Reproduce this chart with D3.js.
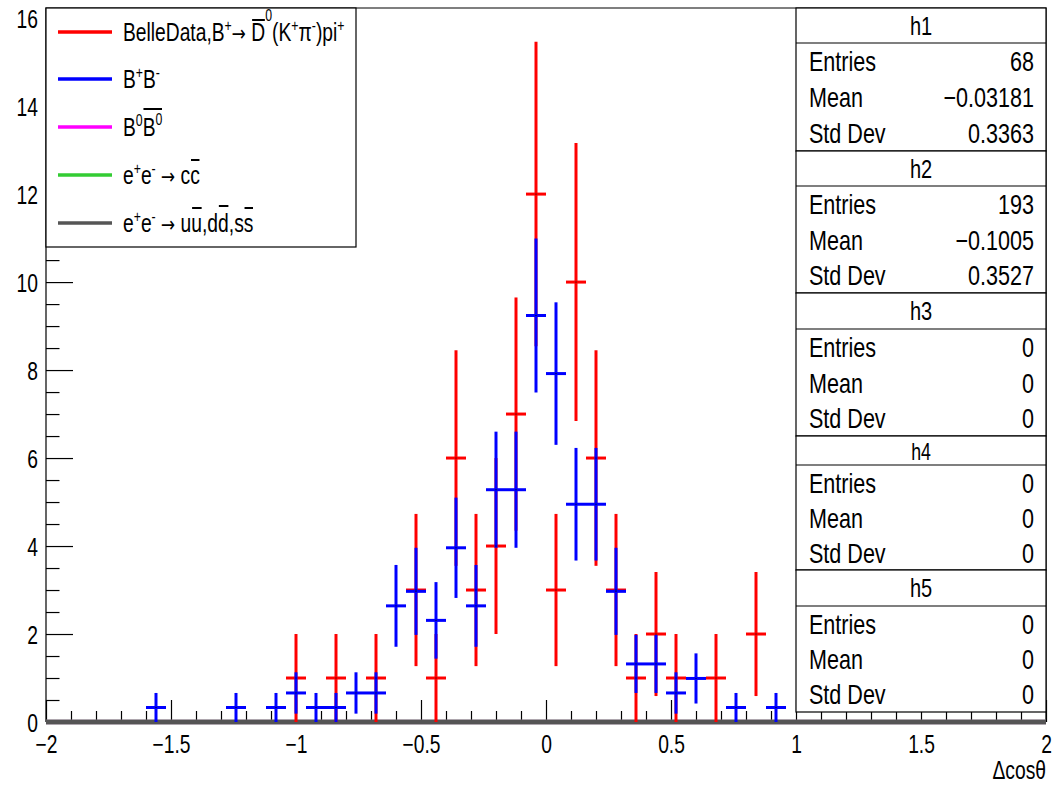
<!DOCTYPE html>
<html><head><meta charset="utf-8">
<script src="https://cdn.jsdelivr.net/npm/d3@7"></script>
<style>
html,body{margin:0;padding:0;background:#fff;}
svg{display:block;font-family:"Liberation Sans",Arial,Helvetica,sans-serif;}
</style></head><body>
<svg id="c" width="1064" height="785"></svg>
<script>
// ---------------- DATA ----------------
// h1: Belle data (bin centers, counts, errors)
const dataX   = [-1.00,-0.84,-0.68,-0.52,-0.44,-0.36,-0.28,-0.20,-0.12,-0.04,0.04,0.12,0.20,0.28,0.36,0.44,0.52,0.68,0.84];
const dataY   = [1,1,1,3,1,6,3,4,7,12,3,10,6,3,1,2,1,1,2];
const dataErr = [1,1,1,1.73,1,2.45,1.73,2,2.65,3.46,1.73,3.16,2.45,1.73,1,1.41,1,1,1.41];
// h2: B+B- MC (scaled)
const mcX   = [-1.56,-1.24,-1.08,-1.00,-0.92,-0.84,-0.76,-0.68,-0.60,-0.52,-0.44,-0.36,-0.28,-0.20,-0.12,-0.04,0.04,0.12,0.20,0.28,0.36,0.44,0.52,0.60,0.76,0.92];
const mcY   = [0.33,0.33,0.33,0.66,0.33,0.33,0.66,0.66,2.64,2.97,2.31,3.96,2.64,5.28,5.28,9.24,7.92,4.95,4.95,2.97,1.32,1.32,0.66,0.99,0.33,0.33];
const mcErr = [0.33,0.33,0.33,0.47,0.33,0.33,0.47,0.47,0.93,0.99,0.87,1.14,0.93,1.32,1.32,1.75,1.62,1.28,1.28,0.99,0.66,0.66,0.47,0.57,0.33,0.33];
// h3,h4,h5: empty histograms (value 0 over the full range)
const emptyX = [-2, 2];
const emptyY = [0, 0];
const binWidth = 0.08;

const xTicks = [-2,-1.5,-1,-0.5,0,0.5,1,1.5,2];
const xMinorTicks = [-1.9,-1.8,-1.7,-1.6,-1.4,-1.3,-1.2,-1.1,-0.9,-0.8,-0.7,-0.6,-0.4,-0.3,-0.2,-0.1,0.1,0.2,0.3,0.4,0.6,0.7,0.8,0.9,1.1,1.2,1.3,1.4,1.6,1.7,1.8,1.9];
const yTicks = [0,2,4,6,8,10,12,14,16];
const yMinorTicks = [0.5,1,1.5,2.5,3,3.5,4.5,5,5.5,6.5,7,7.5,8.5,9,9.5,10.5,11,11.5,12.5,13,13.5,14.5,15,15.5];

const statNames   = ["h1","h2","h3","h4","h5"];
const statEntries = ["68","193","0","0","0"];
const statMean    = ["\u22120.03181","\u22120.1005","0","0","0"];
const statStd     = ["0.3363","0.3527","0","0","0"];
const statLabels  = ["Entries","Mean","Std Dev"];

const xTitle = "\u0394cos\u03b8";

// ---------------- DRAW ----------------
const SX = 0.77; // horizontal text compression of the reference
const svg = d3.select("#c");
const L = 46, R = 1046, T = 8, B = 722;
const x = d3.scaleLinear().domain([-2,2]).range([L,R]);
const y = d3.scaleLinear().domain([0,16.23]).range([B,T]);
const fmt = d => (d<0 ? "\u2212" : "") + Math.abs(d);

// frame
svg.append("path").attr("d",`M${L},${B}V${T}H${R}V${B}`).attr("fill","none").attr("stroke","#000").attr("stroke-width",1.2);

// x axis
function styleAxis(g){ g.select(".domain").remove(); g.selectAll("line").attr("stroke","#000").attr("stroke-width",1.2); }
svg.append("g").attr("transform",`translate(0,${B})`)
  .call(d3.axisBottom(x).tickValues(xMinorTicks).tickSize(-11).tickFormat("").tickSizeOuter(0)).call(styleAxis);
const gx = svg.append("g").attr("transform",`translate(0,${B})`)
  .call(d3.axisBottom(x).tickValues(xTicks).tickSize(-22).tickPadding(13).tickFormat(fmt).tickSizeOuter(0)).call(styleAxis);
gx.selectAll("text").attr("font-size",25).attr("font-family",null).attr("fill","#000")
  .attr("transform",`scale(${SX},1)`);
gx.attr("font-family",null).attr("font-size",null);

// y axis
svg.append("g").attr("transform",`translate(${L},0)`)
  .call(d3.axisLeft(y).tickValues(yMinorTicks).tickSize(-13.5).tickFormat("").tickSizeOuter(0)).call(styleAxis);
const gy = svg.append("g").attr("transform",`translate(${L},0)`)
  .call(d3.axisLeft(y).tickValues(yTicks).tickSize(-27).tickFormat(fmt).tickSizeOuter(0)).call(styleAxis);
gy.attr("font-family",null).attr("font-size",null);
gy.selectAll("text").attr("font-size",25).attr("fill","#000").attr("x",0).attr("dy",null).attr("y",9)
  .attr("transform",`translate(-8,0) scale(${SX},1)`);

// x title
svg.append("text").attr("transform",`translate(${R},779) scale(${SX},1)`).attr("text-anchor","end")
  .attr("font-size",25).text(xTitle);

// empty histograms at 0
const line = d3.line().x((d,i)=>x(emptyX[i])).y(d=>y(d));
["#ff00ff","#33cc33","#555555"].forEach(c=>{
  svg.append("path").datum(emptyY).attr("d",line).attr("stroke",c).attr("stroke-width",4.5).attr("fill","none");
});

// error-bar histograms
function drawErr(xs, ys, es, color){
  const g = svg.append("g").attr("stroke",color).attr("stroke-width",3);
  xs.forEach((c,i)=>{
    g.append("line").attr("x1",x(c)).attr("x2",x(c)).attr("y1",y(Math.max(0,ys[i]-es[i]))).attr("y2",y(ys[i]+es[i]));
    g.append("line").attr("x1",x(c-binWidth/2)).attr("x2",x(c+binWidth/2)).attr("y1",y(ys[i])).attr("y2",y(ys[i]));
  });
  return g;
}
drawErr(dataX,dataY,dataErr,"#ff0000");
drawErr(mcX,mcY,mcErr,"#0000ff");
// tiny markers
dataX.forEach((c,i)=>svg.append("rect").attr("x",x(c)-0.5).attr("y",y(dataY[i])-0.5).attr("width",1).attr("height",1).attr("fill","#000"));
mcX.forEach((c,i)=>svg.append("rect").attr("x",x(c)-0.5).attr("y",y(mcY[i])-0.5).attr("width",1).attr("height",1).attr("fill","#000"));

// ---------------- LEGEND ----------------
svg.append("rect").attr("x",L).attr("y",T).attr("width",310).attr("height",239).attr("fill","#fff").attr("stroke","#000").attr("stroke-width",1.2);
const FS = 25, SUP = 16;
const ARROW = {t:"\u2192", font:"DejaVu Sans"};
const legendEntries = [
  {c:"#ff0000", segs:[{t:"BelleData,B"},{t:"+",sup:10},ARROW,{t:" "},{t:"D",bar:"both",barY:-21},{t:"0",sup:20},{t:"(K"},{t:"+",sup:10},{t:"\u03c0"},{t:"-",sup:10},{t:")pi"},{t:"+",sup:10}]},
  {c:"#0000ff", segs:[{t:"B"},{t:"+",sup:10},{t:"B"},{t:"-",sup:10}]},
  {c:"#ff00ff", segs:[{t:"B"},{t:"0",sup:10},{t:"B",bar:"start",barY:-27},{t:"0",sup:11,bar:"end"}]},
  {c:"#33cc33", segs:[{t:"e"},{t:"+",sup:10},{t:"e"},{t:"-",sup:10},{t:" "},ARROW,{t:" c"},{t:"c",bar:"both",barY:-24}]},
  {c:"#555555", segs:[{t:"e"},{t:"+",sup:10},{t:"e"},{t:"-",sup:10},{t:" "},ARROW,{t:" u"},{t:"u",bar:"both",barY:-24},{t:",d"},{t:"d",bar:"both",barY:-26},{t:",s"},{t:"s",bar:"both",barY:-24}]}
];
const rowY = [32,79,127,175,223];
legendEntries.forEach((e,i)=>{
  svg.append("line").attr("x1",58).attr("x2",112).attr("y1",rowY[i]).attr("y2",rowY[i]).attr("stroke",e.c).attr("stroke-width",3.5);
  const g = svg.append("g").attr("transform",`translate(123,${rowY[i]+9}) scale(${SX},1)`);
  let cx = 0, barStart = 0, barY = 0;
  e.segs.forEach(s=>{
    const t = g.append("text").attr("x",cx).attr("y",s.sup? -s.sup:0).attr("font-size",s.sup?SUP:(s.font?22:FS))
      .attr("font-family",s.font||null).style("white-space","pre").text(s.t);
    const w = t.node().getComputedTextLength();
    if (s.bar==="start"||s.bar==="both"){ barStart = cx; barY = s.barY; }
    if (s.bar==="end"||s.bar==="both"){
      g.append("line").attr("x1",barStart+1).attr("x2",cx+w-0.5).attr("y1",barY).attr("y2",barY).attr("stroke","#000").attr("stroke-width",2);
    }
    cx += w;
  });
});

// ---------------- STATS BOXES ----------------
const boxL = 796, boxR = 1046;
const boxTop = [8,151,293,436,570], boxLine = [43,186,329,465,606], boxBot = [151,293,436,570,712];
statNames.forEach((nm,i)=>{
  svg.append("rect").attr("x",boxL).attr("y",boxTop[i]).attr("width",boxR-boxL).attr("height",boxBot[i]-boxTop[i])
    .attr("fill","#fff").attr("stroke","#000").attr("stroke-width",1.2);
  svg.append("line").attr("x1",boxL).attr("x2",boxR).attr("y1",boxLine[i]).attr("y2",boxLine[i]).attr("stroke","#000").attr("stroke-width",1.2);
  svg.append("text").attr("transform",`translate(${(boxL+boxR)/2},${(boxTop[i]+boxLine[i])/2+9}) scale(${SX},1)`)
    .attr("text-anchor","middle").attr("font-size",i===3?23:26).text(nm);
  const vals = [statEntries[i],statMean[i],statStd[i]];
  const sp = (boxBot[i]-boxLine[i])/3;
  statLabels.forEach((lab,k)=>{
    const by = boxLine[i] + sp*(k+0.5) + 10;
    svg.append("text").attr("transform",`translate(809,${by}) scale(${SX},1)`).attr("font-size",28).text(lab);
    svg.append("text").attr("transform",`translate(1034,${by}) scale(${SX},1)`).attr("text-anchor","end").attr("font-size",28).text(vals[k]);
  });
});
</script>
</body></html>
